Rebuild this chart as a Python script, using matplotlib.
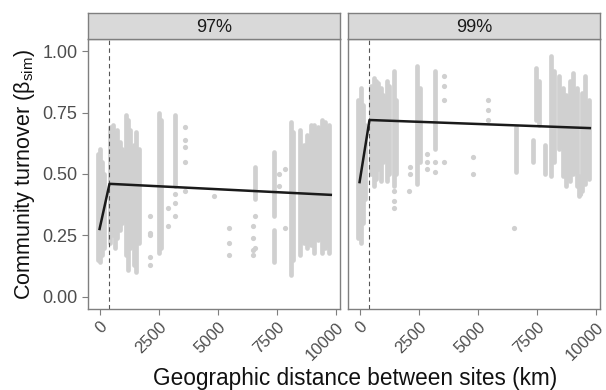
import numpy as np
import matplotlib.pyplot as plt

plt.rcParams['font.family'] = ['Liberation Sans', 'DejaVu Sans']
plt.rcParams['mathtext.fontset'] = 'custom'
plt.rcParams['mathtext.rm'] = 'Liberation Sans'

# ---- data ----
panels = ['97%', '99%']
threshold_km = 420

# vertical streaks of overlapping points: distance (km), lowest, highest turnover
streak_km_97 = [-50, 30, 100, 180, 450, 550, 650, 750, 850, 950, 1100, 1200, 1300,
                1450, 1550, 1650, 2500, 2600, 3200, 6600, 7400, 7400, 8100, 8200,
                8480, 8650, 8800, 8950, 9100, 9250, 9400, 9550, 9700]
streak_lo_97 = [0.15, 0.14, 0.17, 0.20, 0.22, 0.25, 0.20, 0.24, 0.27, 0.30, 0.17, 0.11, 0.20,
                0.13, 0.10, 0.22, 0.18, 0.20, 0.45, 0.40, 0.33, 0.14, 0.09, 0.15,
                0.17, 0.22, 0.20, 0.21, 0.18, 0.23, 0.18, 0.20, 0.18]
streak_hi_97 = [0.58, 0.60, 0.55, 0.50, 0.69, 0.70, 0.66, 0.68, 0.63, 0.60, 0.74, 0.72, 0.68,
                0.62, 0.67, 0.60, 0.75, 0.72, 0.74, 0.53, 0.59, 0.27, 0.71, 0.67,
                0.68, 0.62, 0.66, 0.70, 0.70, 0.69, 0.72, 0.71, 0.70]

# isolated points
point_km_97 = [2140, 2140, 2140, 2140, 2140, 2900, 2900, 3200, 3200, 3200,
               3600, 3600, 3600, 3600, 3600, 4830, 5460, 5460, 5460,
               6510, 6510, 6510, 6510, 6600, 6600, 7600, 7600, 7860, 7860]
point_y_97 = [0.33, 0.26, 0.25, 0.16, 0.13, 0.36, 0.29, 0.33, 0.38, 0.42,
              0.69, 0.64, 0.61, 0.55, 0.43, 0.41, 0.28, 0.22, 0.17,
              0.29, 0.24, 0.19, 0.17, 0.33, 0.20, 0.50, 0.45, 0.52, 0.28]

streak_km_99 = [-50, 50, 150, 250, 500, 600, 700, 800, 900, 1000, 1150, 1250, 1450,
                1550, 2450, 2550, 3210, 6620, 7340, 7470, 7600, 7840, 8100, 8250,
                8430, 8600, 8750, 8900, 9050, 9200, 9310, 9400, 9550, 9700]
streak_lo_99 = [0.24, 0.22, 0.30, 0.40, 0.50, 0.45, 0.48, 0.52, 0.47, 0.55, 0.47, 0.50, 0.45,
                0.50, 0.46, 0.55, 0.60, 0.51, 0.55, 0.72, 0.70, 0.50, 0.49, 0.55,
                0.60, 0.49, 0.45, 0.47, 0.50, 0.45, 0.41, 0.43, 0.46, 0.48]
streak_hi_99 = [0.80, 0.85, 0.78, 0.70, 0.86, 0.89, 0.88, 0.87, 0.85, 0.82, 0.88, 0.86, 0.92,
                0.80, 0.94, 0.85, 0.92, 0.69, 0.64, 0.93, 0.88, 0.62, 0.98, 0.92,
                0.90, 0.85, 0.82, 0.88, 0.91, 0.85, 0.49, 0.83, 0.90, 0.80]

point_km_99 = [1440, 1440, 1440, 2110, 2120, 2120, 2870, 2870, 2870, 3210, 3210,
               3590, 3590, 3590, 3590, 4810, 4810, 5440, 5440, 5440, 6540, 9350]
point_y_99 = [0.43, 0.39, 0.36, 0.43, 0.50, 0.53, 0.58, 0.55, 0.52, 0.51, 0.55,
              0.90, 0.86, 0.80, 0.55, 0.57, 0.50, 0.80, 0.76, 0.72, 0.28, 0.42]

# segmented regression fits
fit_km_97 = [0, 420, 9790]
fit_y_97 = [0.276, 0.46, 0.415]
fit_km_99 = [0, 420, 9750]
fit_y_99 = [0.467, 0.72, 0.687]

x_ticks = [0, 2500, 5000, 7500, 10000]
y_ticks = [0, 0.25, 0.5, 0.75, 1.0]

streaks = [(streak_km_97, streak_lo_97, streak_hi_97), (streak_km_99, streak_lo_99, streak_hi_99)]
points = [(point_km_97, point_y_97), (point_km_99, point_y_99)]
fits = [(fit_km_97, fit_y_97), (fit_km_99, fit_y_99)]

# ---- figure ----
fig = plt.figure(figsize=(6.06, 3.9), dpi=100)
W, H = 606, 390
frame = '#7f7f7f'
dot = '#d0d0d0'
panel_w = 252

for i, label in enumerate(panels):
    x0 = [88, 348][i]
    ax = fig.add_axes([x0 / W, 1 - 309 / H, panel_w / W, 270 / H])
    km, lo, hi = streaks[i]
    ax.vlines(km, lo, hi, color=dot, linewidth=3.4, capstyle='round', zorder=1)
    ax.scatter(points[i][0], points[i][1], s=14, color=dot, linewidths=0, zorder=1)
    ax.axvline(threshold_km, color='#555555', linestyle=(0, (4, 3)), linewidth=0.8, zorder=2)
    ax.plot(fits[i][0], fits[i][1], color='#1a1a1a', linewidth=1.8, zorder=3)

    ax.set_xlim(-490, 10180)
    ax.set_ylim(-0.05, 1.05)
    ax.set_xticks(x_ticks)
    ax.set_xticklabels([str(t) for t in x_ticks], rotation=45,
                       ha='right', va='top', rotation_mode='anchor', fontsize=12)
    ax.set_yticks(y_ticks)
    if i == 0:
        ax.set_yticklabels(['%.2f' % t for t in y_ticks], fontsize=13)
        ax.set_ylabel(r'Community turnover (β$_{\mathrm{sim}}$)', fontsize=15.5,
                      color='#111111', labelpad=4)
    else:
        ax.tick_params(axis='y', left=False, labelleft=False)
    ax.tick_params(colors=frame, labelcolor='#4d4d4d', length=4, width=0.8)
    for s in ax.spines.values():
        s.set_color(frame)
        s.set_linewidth(1.0)

    # facet strip
    strip = fig.add_axes([x0 / W, 1 - 39 / H, panel_w / W, 26 / H])
    strip.set_facecolor('#d9d9d9')
    strip.set_xticks([])
    strip.set_yticks([])
    for s in strip.spines.values():
        s.set_color(frame)
        s.set_linewidth(1.0)
    strip.text(0.5, 0.45, label, ha='center', va='center', fontsize=13, color='#1a1a1a',
               transform=strip.transAxes)

fig.text(355 / W, 1 - 378 / H, 'Geographic distance between sites (km)',
         ha='center', va='center', fontsize=16.3, color='#111111')

plt.savefig('out.png', dpi=100)
